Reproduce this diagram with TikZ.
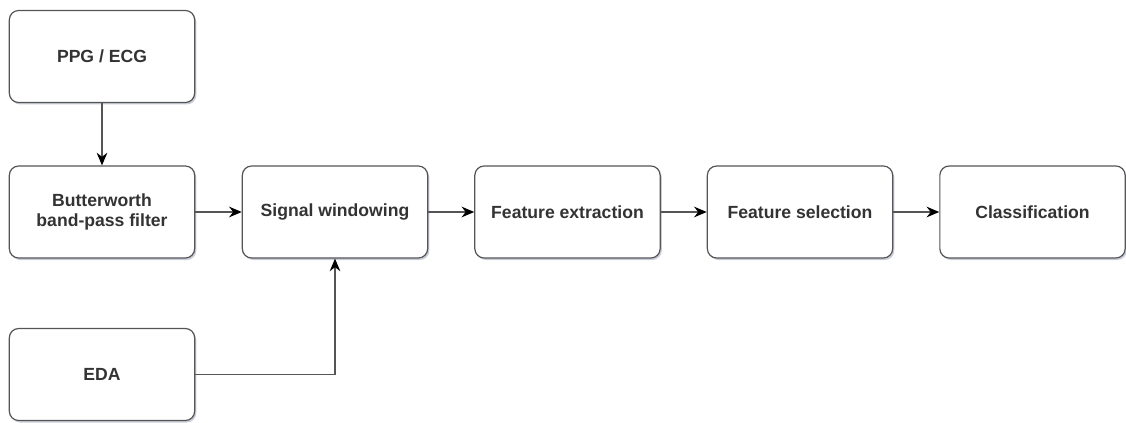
\documentclass[tikz,border=0pt]{standalone}
\usepackage{fontspec}
\setmainfont{Liberation Sans}
\usepackage{xcolor}
\usepackage{tikz}
\usetikzlibrary{arrows.meta, positioning, calc, shadows}
\definecolor{BoxLine}{RGB}{85, 85, 85}
\definecolor{TextGray}{RGB}{51, 51, 51}
\definecolor{ShadowBlue}{RGB}{120, 130, 160}

\begin{document}
\begin{tikzpicture}[
    x=0.75pt, y=0.75pt,
    box/.style={
      rectangle, rounded corners=7pt,
      draw=BoxLine, line width=0.9pt, fill=white,
      drop shadow={shadow xshift=1.2pt, shadow yshift=-1.5pt,
                   fill=ShadowBlue, opacity=0.4},
      minimum width=139pt, minimum height=69pt, inner sep=2pt,
      font=\fontsize{13.2}{15.5}\selectfont\bfseries,
      text=TextGray, align=center
    },
    arr/.style={-{Stealth[length=9.5pt, width=8pt, color=black]},
                line width=0.9pt, color=BoxLine}
  ]
    \useasboundingbox (0,0) rectangle (1126,422);

    \node[box] (sig)   at (102,365.5)  {PPG / ECG};
    \node[box] (filt)  at (102,210)    {Butterworth\\band-pass filter};
    \node[box] (win)   at (335,210)    {Signal windowing};
    \node[box] (fext)  at (567.5,210)  {Feature extraction};
    \node[box] (fsel)  at (800,210)    {Feature selection};
    \node[box] (cls)   at (1032.5,210) {Classification};
    \node[box] (eda)   at (102,47.5)   {EDA};

    \draw[arr] (sig)  -- (filt);
    \draw[arr] (filt) -- (win);
    \draw[arr] (win)  -- (fext);
    \draw[arr] (fext) -- (fsel);
    \draw[arr] (fsel) -- (cls);
    \draw[arr] (eda)  -| (win);
  \end{tikzpicture}
\end{document}
